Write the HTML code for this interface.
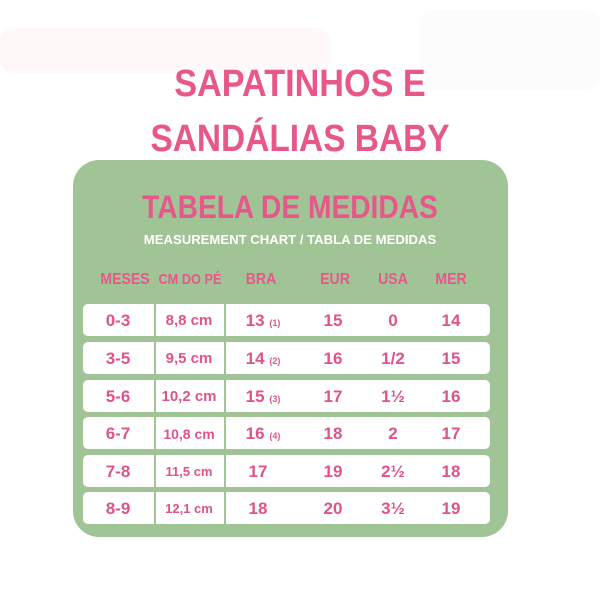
<!DOCTYPE html>
<html><head><style>
html,body{margin:0;padding:0;width:600px;height:600px;background:#fff;overflow:hidden}
body{position:relative;font-family:"Liberation Sans",sans-serif;}
.t{position:absolute;white-space:nowrap;font-weight:bold;color:#e8578a;transform-origin:center;text-align:center}
.bg{position:absolute;border-radius:14px}
.box{position:absolute;left:73px;top:160px;width:435px;height:377px;background:#a1c497;border-radius:26px}
.row{position:absolute;left:83px;width:407px;height:32px;background:#fff;border-radius:5px}
.sep{position:absolute;top:0;width:2px;height:100%;background:#a1c497}
.c{position:absolute;top:1px;line-height:32px;font-weight:bold;color:#e0538a;font-size:17px;white-space:nowrap;transform:translateX(-50%)}
.s{font-size:9px}
</style></head><body>
<div class="bg" style="left:0;top:28px;width:330px;height:45px;background:#fff8f9"></div>
<div class="bg" style="left:420px;top:10px;width:180px;height:80px;background:#fbfcfb"></div>
<div class="t" style="left:100px;width:400px;top:62px;font-size:38px;line-height:44px;transform:scaleX(0.9)">SAPATINHOS E</div>
<div class="t" style="left:90px;width:420px;top:117px;font-size:38px;line-height:44px;transform:scaleX(0.88)">SANDÁLIAS BABY</div>
<div class="box"></div>
<div class="t" style="left:90px;width:400px;top:189px;font-size:32px;line-height:36px;transform:scaleX(0.88);color:#e8578a">TABELA DE MEDIDAS</div>
<div class="t" style="left:90px;width:400px;top:233px;font-size:12.5px;line-height:14px;color:#fff;transform:scaleX(1.05)">MEASUREMENT CHART / TABLA DE MEDIDAS</div>
<div class="t" style="left:85px;width:80px;top:271px;font-size:16px;line-height:18px;transform:scaleX(0.88)">MESES</div>
<div class="t" style="left:150px;width:80px;top:271px;font-size:15px;line-height:18px;transform:scaleX(0.85)">CM DO PÉ</div>
<div class="t" style="left:221px;width:80px;top:271px;font-size:16px;line-height:18px;transform:scaleX(0.88)">BRA</div>
<div class="t" style="left:295px;width:80px;top:271px;font-size:16px;line-height:18px;transform:scaleX(0.88)">EUR</div>
<div class="t" style="left:353px;width:80px;top:271px;font-size:16px;line-height:18px;transform:scaleX(0.88)">USA</div>
<div class="t" style="left:411px;width:80px;top:271px;font-size:16px;line-height:18px;transform:scaleX(0.88)">MER</div>

<div class="row" style="top:304px"><div class="sep" style="left:71px"></div><div class="sep" style="left:141px"></div>
<div class="c" style="left:35px">0-3</div><div class="c" style="left:106px;font-size:15px">8,8 cm</div><div class="c" style="left:180px">13 <span class="s">(1)</span></div><div class="c" style="left:250px">15</div><div class="c" style="left:310px">0</div><div class="c" style="left:368px">14</div></div>
<div class="row" style="top:342px"><div class="sep" style="left:71px"></div><div class="sep" style="left:141px"></div>
<div class="c" style="left:35px">3-5</div><div class="c" style="left:106px;font-size:15px">9,5 cm</div><div class="c" style="left:180px">14 <span class="s">(2)</span></div><div class="c" style="left:250px">16</div><div class="c" style="left:310px">1/2</div><div class="c" style="left:368px">15</div></div>
<div class="row" style="top:380px"><div class="sep" style="left:71px"></div><div class="sep" style="left:141px"></div>
<div class="c" style="left:35px">5-6</div><div class="c" style="left:106px;font-size:15px">10,2 cm</div><div class="c" style="left:180px">15 <span class="s">(3)</span></div><div class="c" style="left:250px">17</div><div class="c" style="left:310px">1½</div><div class="c" style="left:368px">16</div></div>
<div class="row" style="top:417px"><div class="sep" style="left:71px"></div><div class="sep" style="left:141px"></div>
<div class="c" style="left:35px">6-7</div><div class="c" style="left:106px;font-size:14px">10,8 cm</div><div class="c" style="left:180px">16 <span class="s">(4)</span></div><div class="c" style="left:250px">18</div><div class="c" style="left:310px">2</div><div class="c" style="left:368px">17</div></div>
<div class="row" style="top:455px"><div class="sep" style="left:71px"></div><div class="sep" style="left:141px"></div>
<div class="c" style="left:35px">7-8</div><div class="c" style="left:106px;font-size:13px">11,5 cm</div><div class="c" style="left:175px">17</div><div class="c" style="left:250px">19</div><div class="c" style="left:310px">2½</div><div class="c" style="left:368px">18</div></div>
<div class="row" style="top:492px"><div class="sep" style="left:71px"></div><div class="sep" style="left:141px"></div>
<div class="c" style="left:35px">8-9</div><div class="c" style="left:106px;font-size:13px">12,1 cm</div><div class="c" style="left:175px">18</div><div class="c" style="left:250px">20</div><div class="c" style="left:310px">3½</div><div class="c" style="left:368px">19</div></div>
</body></html>
